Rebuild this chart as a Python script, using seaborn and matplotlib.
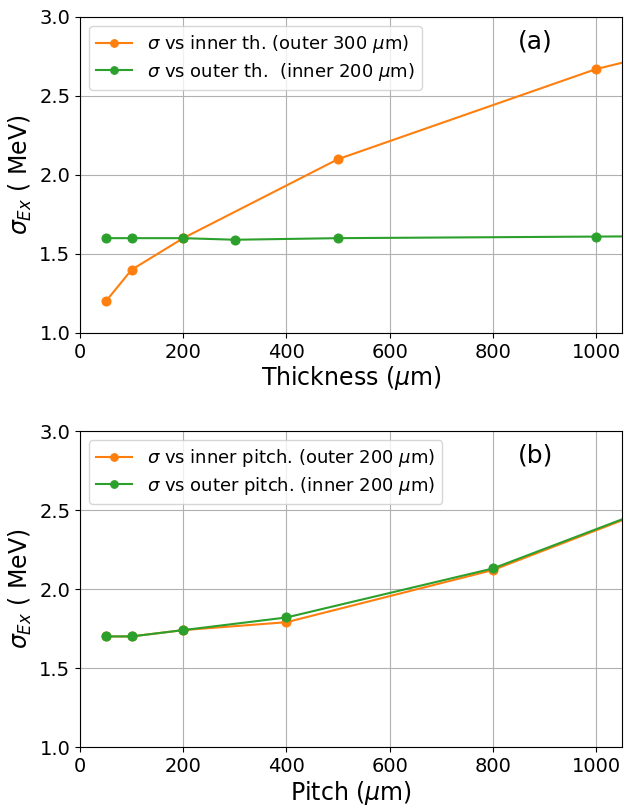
import matplotlib
matplotlib.use("Agg")
import matplotlib.pyplot as plt
import seaborn as sns
import pandas as pd

# Panel (a): thickness
th_inner_x = [50, 100, 200, 500, 1000, 1500]
th_inner_y = [1.20, 1.40, 1.60, 2.10, 2.67, 3.07]
th_outer_x = [50, 100, 200, 300, 500, 1000, 1500]
th_outer_y = [1.60, 1.60, 1.60, 1.59, 1.60, 1.61, 1.62]

# Panel (b): pitch
p_inner_x = [50, 100, 200, 400, 800, 1500]
p_inner_y = [1.70, 1.70, 1.74, 1.79, 2.12, 3.00]
p_outer_x = [50, 100, 200, 400, 800, 1500]
p_outer_y = [1.70, 1.70, 1.74, 1.82, 2.13, 3.00]

lab_a = [r'$\sigma$ vs inner th. (outer 300 $\mu$m)', r'$\sigma$ vs outer th.  (inner 200 $\mu$m)']
lab_b = [r'$\sigma$ vs inner pitch. (outer 200 $\mu$m)', r'$\sigma$ vs outer pitch. (inner 200 $\mu$m)']

plt.rcParams['font.family'] = ['DejaVu Sans']

fig = plt.figure(figsize=(6.25, 8.07), dpi=100)
ax1 = fig.add_axes([0.128, 0.5874, 0.867, 0.3916])
ax2 = fig.add_axes([0.128, 0.0743, 0.867, 0.3916])

orange = '#ff7f0e'
green = '#2ca02c'

def draw(ax, x1, y1, x2, y2, labels, xlabel, tag):
    d1 = pd.DataFrame({'x': x1, 'y': y1})
    d2 = pd.DataFrame({'x': x2, 'y': y2})
    sns.lineplot(data=d1, x='x', y='y', ax=ax, color=orange, marker='o', markersize=6.5,
                 markeredgecolor=orange, linewidth=1.5, label=labels[0], sort=False)
    sns.lineplot(data=d2, x='x', y='y', ax=ax, color=green, marker='o', markersize=6.5,
                 markeredgecolor=green, linewidth=1.5, label=labels[1], sort=False)
    ax.set_xlim(0, 1050)
    ax.set_ylim(1.0, 3.0)
    ax.set_xticks([0, 200, 400, 600, 800, 1000])
    ax.set_yticks([1.0, 1.5, 2.0, 2.5, 3.0])
    ax.grid(True, color='#b0b0b0', linewidth=0.8)
    ax.tick_params(axis='both', labelsize=14, labelcolor='black')
    ax.set_xlabel(xlabel, fontsize=17, labelpad=2, color='black')
    ax.set_ylabel(r'$\sigma_{Ex}$ ( MeV)', fontsize=17, color='black')
    ax.legend(loc='upper left', fontsize=13, frameon=True, labelspacing=0.3,
              markerscale=0.85)
    ax.text(0.808, 0.96, tag, transform=ax.transAxes, fontsize=18, ha='left', va='top', color='black')

draw(ax1, th_inner_x, th_inner_y, th_outer_x, th_outer_y, lab_a, r'Thickness ($\mu$m)', '(a)')
draw(ax2, p_inner_x, p_inner_y, p_outer_x, p_outer_y, lab_b, r'Pitch ($\mu$m)', '(b)')

fig.savefig('out.png', dpi=100)
